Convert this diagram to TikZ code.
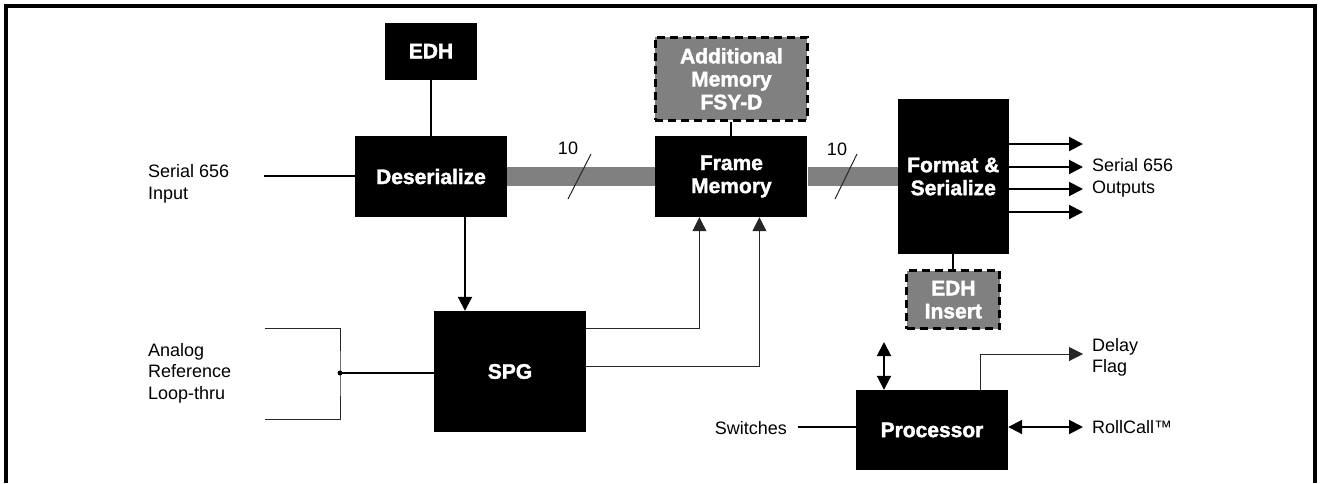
\documentclass[tikz,border=0pt]{standalone}
\usepackage{fontspec}
\setmainfont{Liberation Sans}
\newfontfamily\heavyfont{Liberation Sans Bold}[FakeBold=1.8]
\usepackage{xcolor}
\usetikzlibrary{positioning,arrows.meta}
\definecolor{busgray}{HTML}{808080}

\begin{document}
\begin{tikzpicture}[
    x=1pt, y=-1pt,
    >={Triangle[length=14pt,width=14pt]},
    block/.style={fill=black, text=white, inner sep=0pt, align=center, font=\fontsize{21}{23}\selectfont\heavyfont, minimum width=152pt, minimum height=81pt},
    optblock/.style={block, fill=busgray, draw=black, line width=3pt, dash pattern=on 8pt off 5pt},
    lbl/.style={inner sep=0pt, align=left, font=\fontsize{18}{21.5}\selectfont},
    line/.style={line width=2pt},
    sigline/.style={line width=1pt, black!85},
    busline/.style={line width=19pt, busgray}
]
\useasboundingbox (0,0) rectangle (1320,483);

% Outer frame
\draw[line width=4pt] (6,483) -- (6,6) -- (1315,6) -- (1315,483);

% Video path
\node[block] (deser) at (431,176.5) {Deserialize};
\node[block, minimum width=92pt, minimum height=57pt, above=56pt of deser] (edh) {EDH};
\node[block, right=148pt of deser] (frame) {Frame\\Memory};
\node[optblock, minimum height=83pt, above=14pt of frame] (addmem) {Additional\\Memory\\FSY-D};
\node[block, minimum width=111pt, minimum height=155pt, right=90pt of frame] (format) {Format \&\\Serialize};
\node[optblock, minimum width=93pt, minimum height=58pt, below=15pt of format] (edhins) {EDH\\Insert};

% Timing and control
\node[block, minimum height=121pt] (spg) at (510,371.5) {SPG};
\node[block, minimum height=80pt] (proc) at (932,430) {Processor};

% Labels
\node[lbl, anchor=west] (lblin) at (148,184) {Serial 656\\Input};
\node[lbl, anchor=west] (lblref) at (148,373) {Analog\\Reference\\Loop-thru};
\node[lbl, anchor=west] (lblout) at (1092,178) {Serial 656\\Outputs};
\node[lbl, anchor=west] (lbldelay) at (1092,357.5) {Delay\\Flag};
\node[lbl, anchor=west] (lblroll) at (1092,427) {RollCall™};
\node[lbl, anchor=east] (lblsw) at (787,428) {Switches};
\node[lbl] (lblbusa) at (568,148) {10};
\node[lbl] (lblbusb) at (837,149) {10};

\coordinate (inA) at (264,176);
\coordinate (reftop) at (265,328);
\coordinate (refbot) at (265,419);
\coordinate (refdot) at (340,373);
\coordinate (procup) at (884,342);
\coordinate (delayend) at (1083,354);
\coordinate (rollend) at (1083,427);
\coordinate (swend) at (798,427);

% 10-bit buses
\draw[busline] (deser.east) -- (frame.west);
\draw[busline] (frame.east) -- (format.west);
\draw[sigline] (591,154) -- (568,199);
\draw[sigline] (857,154) -- (835,199);

\draw[line] (inA) -- (inA -| deser.west);
\draw[line] (edh) -- (deser);
\draw[line] (addmem) -- (frame);
\draw[line] (format) -- (edhins);
\draw[line, ->] ([xshift=34pt]deser.south) -- ([xshift=34pt]deser.south |- spg.north);

% Reference input
\draw[sigline] (reftop) -| (refdot) |- (refbot);
\fill (refdot) circle (2.5pt);
\draw[line] (refdot) -- (refdot -| spg.west);

% SPG to frame memory
\draw[sigline, ->] ([yshift=-18pt]spg.north east) -| ([xshift=-32pt]frame.south);
\draw[sigline, ->] ([yshift=-56pt]spg.north east) -| ([xshift=28pt]frame.south);

% Outputs
\foreach \y [count=\i] in {144,167,189,212} {
  \coordinate (out\i) at (1083,\y);
  \draw[line, ->] (out\i -| format.east) -- (out\i);
}

% Processor
\draw[line, <->] (procup) -- (procup |- proc.north);
\draw[sigline, ->] ([xshift=48pt]proc.north) |- (delayend);
\draw[line, <->] (rollend -| proc.east) -- (rollend);
\draw[line] (swend) -- (swend -| proc.west);

\end{tikzpicture}
\end{document}
